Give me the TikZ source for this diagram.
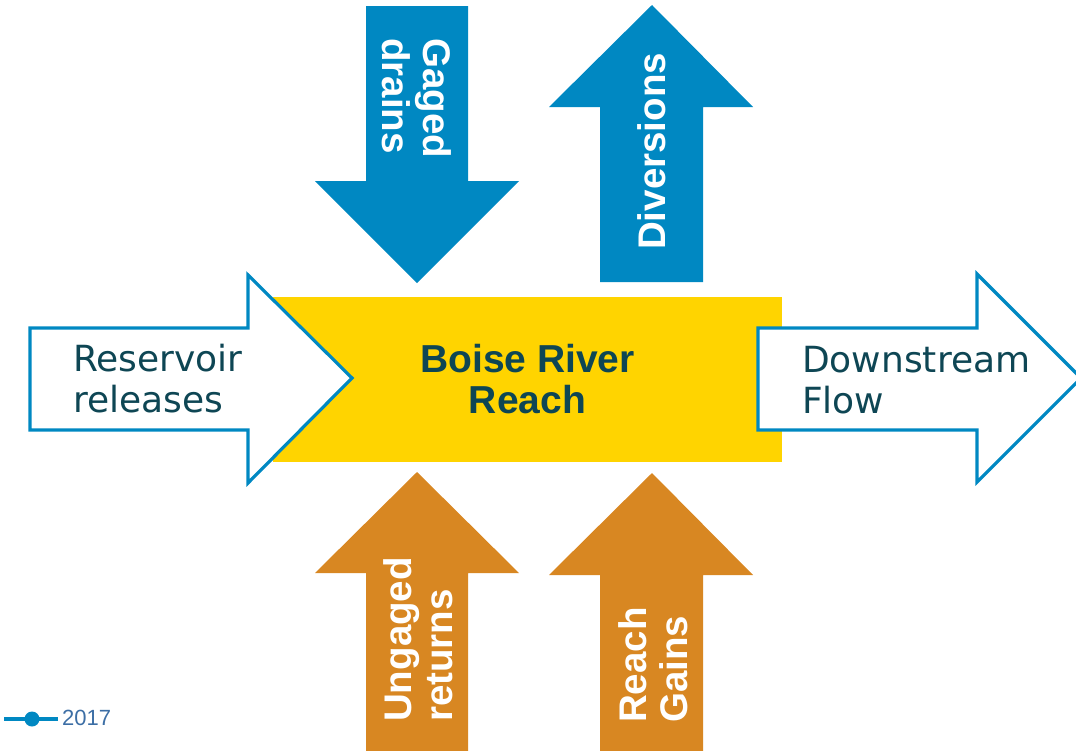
\documentclass[tikz,border=0pt]{standalone}
\usepackage{fontspec}
\setmainfont{Liberation Sans}
\newfontfamily\regfont{DejaVu Sans}

\definecolor{riverblue}{HTML}{0088C2}
\definecolor{gainorange}{HTML}{D88722}
\definecolor{reachyellow}{HTML}{FFD400}
\definecolor{labelteal}{HTML}{0E4654}
\definecolor{legendblue}{HTML}{3C6EA5}

\tikzset{
  flowout/.style={draw=riverblue, line width=3.2pt, fill=white, line join=miter},
  bluearrow/.style={fill=riverblue},
  orangearrow/.style={fill=gainorange},
  sidelabel/.style={inner sep=0pt, anchor=west, align=left, text=labelteal,
    font=\regfont\fontsize{36}{41}\selectfont},
  arrowlabel/.style={inner sep=0pt, anchor=west, align=left, text=white,
    font=\bfseries\fontsize{38.5}{40.5}\selectfont}
}

\begin{document}
\begin{tikzpicture}[x=1pt, y=-1pt]
  \useasboundingbox (0,0) rectangle (1076,750);

  % the reach itself
  \node[fill=reachyellow, minimum width=509pt, minimum height=165pt, inner sep=0pt,
    text=labelteal, align=center, font=\bfseries\fontsize{39}{41}\selectfont]
    (reach) at (527.5,379.5) {Boise River\\Reach};

  % inflow and outflow
  \draw[flowout] (30,328) -- (248,328) -- (248,275) -- (352,378) -- (248,483)
    -- (248,430) -- (30,430) -- cycle;
  \draw[flowout] (758,328) -- (977,328) -- (977,274) -- (1081,378) -- (977,482)
    -- (977,430) -- (758,430) -- cycle;
  \node[sidelabel] (release) at (73,379) {Reservoir\\releases};
  \node[sidelabel] (downflow) at (802,380) {Downstream\\Flow};

  % top arrows
  \fill[bluearrow] (366,6) -- (468,6) -- (468,181) -- (519,181) -- (417,283)
    -- (315,181) -- (366,181) -- cycle;
  \fill[bluearrow] (600,282) -- (703,282) -- (703,107) -- (753,107) -- (652,5)
    -- (549,107) -- (600,107) -- cycle;
  \node[arrowlabel, rotate=-90] (drains) at (417,38) {Gaged\\drains};
  \node[arrowlabel, rotate=90] (divert) at (652,250) {Diversions};

  % bottom arrows
  \fill[orangearrow] (366,752) -- (468,752) -- (468,573) -- (519,573) -- (417,472)
    -- (315,573) -- (366,573) -- cycle;
  \fill[orangearrow] (600,752) -- (703,752) -- (703,575) -- (753,575) -- (652,473)
    -- (549,575) -- (600,575) -- cycle;
  \node[arrowlabel, rotate=90] (returns) at (418,722) {Ungaged\\returns};
  \node[arrowlabel, rotate=90] (gains) at (653,723) {Reach\\Gains};

  % legend
  \coordinate (legA) at (4,719);
  \coordinate (legB) at (58,719);
  \draw[riverblue, line width=3.5pt] (legA) -- (legB);
  \node[circle, fill=riverblue, inner sep=0pt, minimum size=15pt] (legdot) at (32,719) {};
  \node[inner sep=0pt, anchor=west, text=legendblue, font=\fontsize{22}{24}\selectfont]
    (legyear) at (62,718) {2017};
\end{tikzpicture}
\end{document}
